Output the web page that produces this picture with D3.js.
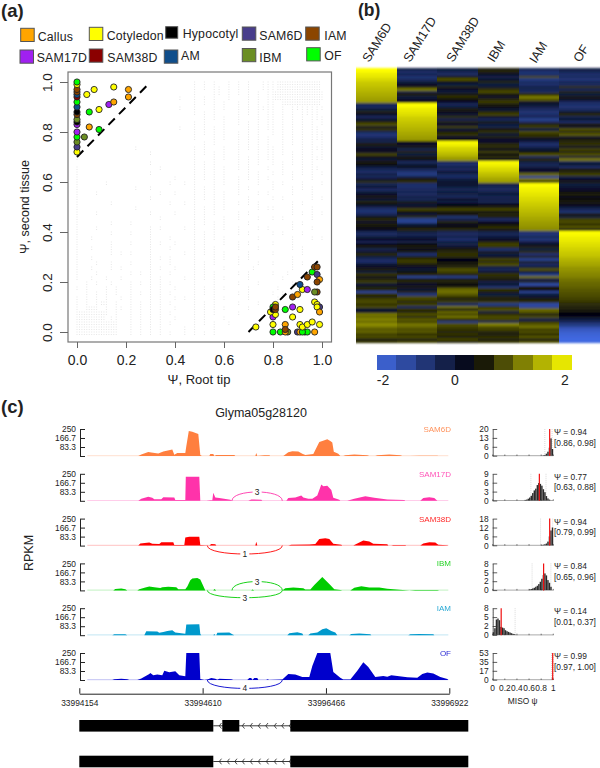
<!DOCTYPE html>
<html><head><meta charset="utf-8">
<script src="https://cdn.jsdelivr.net/npm/d3@7"></script>
<style>
html,body{margin:0;padding:0;background:#fff}
svg{display:block}
text{font-family:"Liberation Sans",Arial,sans-serif;fill:#222}
</style></head><body>
<svg id="c" width="600" height="768" xmlns="http://www.w3.org/2000/svg"></svg>
<script>
// ---------- panel (a) data
const tissueNames = ["Callus","Cotyledon","Hypocotyl","SAM6D","IAM","SAM17D","SAM38D","AM","IBM","OF"];
const tissueColors = ["#FFA500","#FFFF00","#000000","#483D8B","#8B4500","#A020F0","#8B0000","#104E8B","#6B8E23","#00FF00"];
const psiAxisTicks = [0,0.2,0.4,0.6,0.8,1.0];
// [psi root tip, psi second tissue, tissue]
const switchesHigh = [[0,.72,"Cotyledon"],[0,.74,"SAM6D"],[0,.76,"IBM"],[0,.78,"OF"],[0,.80,"SAM17D"],[0,.83,"SAM17D"],[0,.84,"Hypocotyl"],[0,.85,"IBM"],[0,.87,"IAM"],[0,.88,"Hypocotyl"],[0,.90,"AM"],[0,.92,"OF"],[0,.94,"SAM38D"],[0,.95,"AM"],[0,.96,"IAM"],[0,.97,"IAM"],[0,.99,"Cotyledon"],[0,1,"OF"],
[.04,.95,"Cotyledon"],[.07,.97,"Cotyledon"],[.15,.98,"Cotyledon"],[.21,.97,"Callus"],[.21,.94,"Callus"],[.13,.91,"SAM17D"],[.15,.92,"Callus"],[.09,.89,"Cotyledon"],[.05,.88,"OF"],[.05,.82,"Callus"],[.09,.81,"OF"],[.03,.78,"IBM"]];
const switchesLow = [[.73,.02,"Cotyledon"],[.80,.03,"Cotyledon"],[.80,0,"OF"],[.83,0,"OF"],[.86,0,"IBM"],[.85,0,"Callus"],[.85,.03,"Callus"],[.85,.01,"IAM"],[.90,0,"SAM6D"],[.93,0,"SAM6D"],[.91,0,"Callus"],[.94,0,"OF"],[.92,0,"OF"],[.97,0,"Callus"],[.91,.03,"Cotyledon"],[.92,.02,"Cotyledon"],[.94,.03,"Cotyledon"],[.96,.04,"Cotyledon"],[.99,.03,"Cotyledon"],
[.85,.09,"OF"],[.88,.10,"SAM17D"],[.91,.09,"Cotyledon"],[.88,.06,"Cotyledon"],[.80,.06,"SAM17D"],[.81,.07,"Cotyledon"],[.79,.08,"Cotyledon"],[.81,.11,"Cotyledon"],[.80,.10,"OF"],[.80,.09,"Hypocotyl"],[.81,.09,"IAM"],[.81,.10,"IAM"],
[.88,.14,"IAM"],[.90,.15,"Callus"],[.92,.17,"Cotyledon"],[.94,.17,"SAM17D"],[.91,.19,"AM"],[.94,.22,"IAM"],[.96,.24,"OF"],[.97,.26,"IAM"],[.98,.26,"IAM"],[.98,.23,"SAM6D"],[.99,.21,"Callus"],[.98,.20,"IAM"],[.98,.16,"IAM"],[.97,.16,"IBM"],[.97,.12,"Cotyledon"],[.98,.11,"Cotyledon"],[.99,.10,"SAM6D"],[.98,.10,"Cotyledon"],[.99,.08,"Callus"]];
// occurrence map of background events: one row per 0.02 of y, one char per 0.02 of x ("X" = finer 0.01 cell)
const backgroundRows = [
".......... .......... ....x.x.x. .x.x.x..xx xXXXXXXXXX .",
".......... .......... ....x.x.xx .x.x.x..xx xXXXXXXXXX .",
".......... .......... ....x...xx .x.x.x.x.x XXXXXXXXXX x",
".......... .......... .x..x.x.x. .x...x.x.x XXXXXXXXXX x",
".......... .......... ....x.x.x. x..x.x.x.x x.XXXXXXXX .",
".......... .......... .x..x...x. x..x.x.xxx x.x.xxxxxx x",
".......... .......... ....x.x.x. ...x.x.x.x x.x.x.xxxx .",
".......... .......... ......x.x. x..x...x.x x.x.x.x.xx x",
".......... .......... ....x.x... x..x.x.x.x x.x.x.x.x. x",
".......... .......... .x..x.x.x. x....x.x.x x.x.x.x.xx .",
".......... .......... ....x.x.x. x..x.x.x.. x.x.x.x.xx x",
".......... .......... ....x...x. x..x.x.x.x ..x.x.x.xx x",
".......... .......... ......x.x. ...x.x.x.x ..x.x.x.x. x",
".......... ..x....... ....x.x... x..x.x.x.x x.x...x.xx x",
".......... .....x.... ....x.x.x. x..x...x.x x.x.x.x.x. x",
"x......... .......... ....x...x. x..x.x.x.x x...x.x.xx x",
".......... .....x.... ....x.x.x. ...x.x.x.. x.x.x.x.x. .",
"x......... .......x.. ....x.x.x. x..x.x...x ..x...x.xx .",
"x......... .....x.... ....x.x.x. x....x.x.. x.x.x.x.x. x",
"x......... .......... x...x.x.x. x..x.x.x.x ....x...x. .",
"x.....x... .........x ..x.x...x. x..x...x.. x.x...x... x",
"x......... ..x..x.... ....x.x.x. ...x.x.... x...x.x.x. .",
"x...x..... .......x.. x...x.x.x. x..x...x.x ....x...x. .",
"x......... .....x.... ....x.x.x. x....x.... x.x.....x. x",
"x......x.. .........x ..x.x...x. x..x.x.x.. ....x.x... .",
"x......... ..x....... ....x.x.x. x......x.x x...x...x. .",
"x...x..... .....x.... x...x.x.x. ...x.x.... ....x.x.x. x",
"x......... .......x.. ....x.x... x..x...x.. x.x.....x. .",
"x......x.. .x........ ....x.x.x. x....x.... ....x.x... .",
"x...x..... .....x.x.. ..x.x...x. x..x...x.x ....x...x. .",
"x......x.. .x...x.... ....x.x.x. ...x.x.... x.x...x... .",
"x..x...... .....x...x ....x.x.x. x......x.. ....x...x. x",
"x......x.. .x...x.x.. x...x.x... x..x.x.... x...x..... .",
"x..x...x.. .....x...x ....x.x.x. ...x...x.. ....x.x... .",
"x......x.x .x...x.... ..x.x.x.x. x....x.... x.....x... .",
"x..x...... .....x.x.x ....x...x. x..x.x.... ....x..... .",
"x...x..x.. .x...x...x ....x.x.x. ...x...x.. x...x.x... .",
"x..x...x.x .....x.x.. x...x.x... x.....x... ....x..... .",
"x...x..... .x.x.x...x ....x.x.x. ...x.x.... x..x...... .",
"x..x..x..x .....x.x.. ..x.x.x.x. x....x.... ..x....... .",
"..x.x..x.. .x.x.x.x.x ....x...x. ...x...x.. ....x..... .",
"x.x...x.x. .x...x.x.. x...x.x.x. x....x.... .x........ .",
"..x.x.x.x. .x.x.x.x.x ....x.x.x. ...x.x.... x.x....... .",
"x.x.x.x..x .x...x.x.. x.x.x...x. x....x.... .x........ .",
"x.x.xXx.x. .x.x.x.x.x ....x.x.x. ...x...x.. .......... .",
"x.XXx.x.xx .x.x.x.x.. x...x.x.x. x....x.... .......... .",
"XXXXXXx.x. .x.x.x.x.x ....x.x.x. ...x...... .......... .",
"XXXXXX.xx. .x.x.x.x.. x...x.x... x......... .......... .",
"XXXXXXXXx. .x.x.x.x.x ....x.x.x. .x........ .......... .",
"XXXXXXXXx. .x.x.x.x.. ..x.x...x. .......... .......... .",
"XXXXXXXXx. .x.x.x.x.x ..x.x.x.x. .......... .......... ."];

// ---------- panel (b) data: one row per event, one array per tissue (block sizes 14,15,8,9,19,45)
const heatColumns = ["SAM6D","SAM17D","SAM38D","IBM","IAM","OF"];
const heatSAM6D = [2,1.95,1.85,1.8,1.7,1.6,1.55,1.5,1.45,1.4,1.35,1.3,1.25,1.15,
-.7,-.8,-.5,.3,-.3,-.8,-.4,.3,.6,-.3,.4,-.7,-1,-.9,-.6,
-.6,.2,-.4,-.2,-.3,.5,-.2,-.4,
.2,.1,-.5,-.7,-.9,-.6,-.8,-.4,.4,
-.7,-.3,-.8,-.5,-.3,.2,-.4,.3,-.2,-.6,-.9,-1,-.7,.1,.3,-.3,.2,.1,-.2,
-.7,-.8,-.5,-.3,-.7,-.2,.2,-.6,-.4,.3,-.5,-.8,-.9,-.4,-.3,.2,-.5,.4,-.2,.3,
.5,-.4,.2,.3,-1.3,.4,.2,.5,.6,.4,.6,-.4,-.3,.9,.8,1,.8,1.1,.9,.7,.8,.5,.6,.3,.4];
const heatSAM17D = [-.6,-.9,-.7,-1,-.8,-.5,-.3,.2,.9,-.6,.2,-.5,-.3,.3,
2,1.95,1.85,1.8,1.75,1.65,1.6,1.55,1.5,1.45,1.4,1.35,1.3,1.25,1.2,
.1,-.3,.2,-.6,.3,-.5,.2,-.2,
-.8,-.5,.1,-.7,-1,-1.1,-.6,.2,.4,
-.9,-.9,-.8,-.7,-.8,-.6,-.7,.2,-.4,-.3,.5,.1,-.4,.4,-1.2,-1.3,-.5,.1,.3,
-.5,-.7,-.5,-.3,-.6,.1,.2,-.2,.2,-.9,.2,.4,.5,.2,-.3,-.4,.1,.3,-1.3,.2,
.3,-.3,.2,-.4,.3,-1,.6,.5,.3,.5,-.8,.4,.2,.6,.3,.7,.5,.9,.8,.6,.7,.4,.6,.3,.5];
const heatSAM38D = [-.5,-.7,-.8,.2,.6,.1,-.5,.3,-.3,-.5,.2,.4,.1,-.3,
-.7,-.5,.2,-.2,-.4,.4,-.6,.3,-.3,.5,-.4,.2,.4,-.3,.1,
2,1.9,1.75,1.65,1.55,1.45,1.3,1.2,
-.7,-.9,-.6,-.8,-.3,-.7,-.9,-.5,-.4,
-.4,-.5,-.7,-.5,-.6,-.8,-.3,-.6,-.1,.2,.5,.1,.2,-1,-.6,.3,-.2,.1,.3,
-.7,-.8,-.6,-.9,-.5,-.6,-.3,.2,.3,.4,.3,-.1,.1,.2,.3,.6,.5,.3,-1.2,.2,
.3,.1,.2,.8,.9,.7,.4,.3,.5,-.8,.9,.3,.8,.6,.9,.4,-1.1,.6,.5,.4,.3,.4,.2,.5,.3];
const heatIBM = [.2,.3,-.3,-.6,-.4,.3,-.5,-.4,.4,.6,.2,-.3,.3,.5,
.2,.1,-.4,.3,.5,-.3,-.7,.2,-.5,-.6,.2,.4,-.4,.3,-.3,
-.3,.3,.4,-.2,.5,.1,.4,-.2,
2,1.9,1.8,1.7,1.6,1.5,1.4,1.3,1.2,
-.6,-.7,-.8,-.6,-.5,-.7,-.6,-.7,-.2,.2,.5,.1,.3,.2,-.8,-.3,.1,.4,.2,
-.6,-.7,-.5,-.3,.3,.5,.4,-.9,.2,-.5,-.3,.5,.3,.6,-.5,-.7,-.4,.4,.3,.2,
-.6,-.4,-1,.4,.2,-.5,.3,.2,.5,-1.1,.4,.6,-.5,.4,.6,.5,-.7,1,.6,.5,.3,.2,.4,.3,.4];
const heatIAM = [-.7,-1,-.9,.6,-1.1,-.8,-.9,-.6,-.7,-.8,.4,1,.7,-.3,
-.4,-.6,-.8,-1,-.9,-.7,-1.2,-.8,.3,.5,-.5,.6,.4,.3,-.3,
-.6,-.9,-.7,-.4,.1,.6,-.8,.3,
-.5,-.7,-.6,-.3,-.4,.8,-1.3,.9,.3,
2,1.95,1.9,1.85,1.8,1.75,1.7,1.65,1.6,1.55,1.5,1.45,1.4,1.35,1.3,1.25,1.2,1.15,1.1,
-.9,-1,-.7,-1,-.6,-.3,.3,-.5,.4,-.9,.3,-1.2,.2,-.8,-.5,.6,-.4,-1.1,.9,-.6,
.3,-1.4,.2,.1,-1.3,-.5,-.4,.2,.4,-1.4,-1.3,.8,.7,.3,.6,-.6,.4,.7,.9,.5,.6,.4,.7,.3,.6];
const heatOF = [-.6,-.7,-.9,-.8,-1,-.7,-.8,.4,-.7,.3,-.5,.2,-.3,-.8,
-.9,-1,-.8,-.4,.3,-.7,-.4,-.9,.2,-.3,.6,.3,.7,-.3,.2,
.3,.4,-.3,.5,.2,.6,-.4,.9,
-.7,-.4,-.9,.2,.3,.5,-.6,-.3,.2,
-.5,-.4,-.3,.1,.2,-.1,.1,.2,-.2,-.4,-.7,-1,.2,-.5,.5,.6,.4,.7,.3,
2,1.95,1.9,1.85,1.8,1.75,1.7,1.65,1.6,1.55,1.5,1.4,1.35,1.3,1.2,1.15,1.1,1.05,1,.9,
.85,.8,.75,.7,.65,.6,.55,.5,.4,.35,.3,.2,.1,0,-.2,-.5,-.8,-1.1,-1.4,-1.7,-1.8,-1.9,-1.95,-2,-2];
const heatTable = [heatSAM6D,heatSAM17D,heatSAM38D,heatIBM,heatIAM,heatOF];
const colorBarBins = [-1.8,-1.4,-1,-.6,-.2,.2,.6,1,1.4,1.8];
const colorBarLabels = [-2,0,2];

// ---------- panel (c) data
const geneTitle = "Glyma05g28120";
const sampleNames = ["SAM6D","SAM17D","SAM38D","IBM","IAM","OF"];
const sampleColors = ["#FF7F3F","#FF33AA","#FF0000","#00CC00","#0099CC","#0000CC"];
const rpkmTicks = [0,83.3,166.7,250];
const genomeTicks = [33994154,33994610,33996466,33996922];
// coverage: [scaled position along the (compressed) genome axis, RPKM]
const covSAM6D = [[59,0],[62,15],[69,37],[72,33],[79,23],[84,42],[93,60],[95,12],[98,28],[106,28],[107,90],[109.5,232],[113,225],[119,204],[121,10],[122.6,0],[130,0],[131,18],[134,18],[135,0],[137,10],[155,10],[156,0],[176,0],[177,28],[178,0],[185,8],[190,8],[191,0],[204,0],[209,35],[213,44],[219,42],[223,20],[226,10],[234,18],[240,130],[243,140],[248,155],[251,140],[253,125],[254.5,40],[259,20],[261,0],[264,0],[266,8],[275,14],[288,8],[290,0],[296,0],[298,8],[310,14],[321,6],[323,0],[331,0],[340,3],[358,3],[359,0]];
const covSAM17D = [[59,0],[62,20],[69,37],[73,28],[75,14],[82,14],[84,32],[95,30],[96,8],[106,8],[106.5,222],[120,222],[121,0],[127,0],[131,5],[133,5],[134,74],[136,30],[140,26],[151,10],[153,0],[169,0],[172,12],[182,10],[183,0],[207,0],[209,25],[216,30],[222,50],[224,30],[229,20],[233,18],[238,50],[242,150],[244,135],[248,140],[252,100],[254,28],[260,10],[261,0],[268,0],[275,18],[286,42],[295,28],[308,12],[325,8],[326,0],[341,0],[344,25],[350,32],[355,25],[358,0]];
const covSAM38D = [[59,0],[61,20],[70,28],[73,16],[80,14],[82,30],[94,30],[95,5],[105,5],[106,75],[110,83],[120,83],[121,5],[130,0],[132,14],[136,12],[137,0],[176,0],[177,35],[178,0],[209,0],[212,8],[230,10],[236,15],[240,60],[246,68],[250,60],[254,18],[262,8],[263,0],[274,0],[278,20],[284,48],[290,38],[294,16],[308,12],[309,0],[312,0],[314,6],[326,6],[327,0],[341,0],[344,20],[350,30],[356,28],[359,8],[368,3],[369,0]];
const covIBM = [[34,0],[36,14],[42,18],[46,10],[48,0],[58,0],[60,10],[66,28],[70,37],[75,30],[81,22],[83,30],[89,33],[97,30],[99,10],[106,10],[108,35],[111,95],[113,111],[118,115],[121,100],[124,40],[126,0],[134,0],[135,12],[137,0],[172,0],[173,8],[175,0],[203,0],[206,20],[214,28],[224,20],[226,8],[231,8],[235,50],[243,125],[251,50],[255,10],[261,4],[263,0],[271,0],[275,25],[282,38],[290,28],[300,28],[308,15],[320,5],[330,0],[336,4],[358,4],[360,0]];
const covIAM = [[33,0],[35,9],[46,9],[48,0],[65,0],[67,36],[78,34],[80,22],[84,30],[88,38],[93,46],[96,25],[106,14],[107,100],[120,102],[121,10],[122,0],[134,0],[135,10],[136,0],[137,0],[138,22],[150,24],[153,8],[155,0],[208,0],[210,18],[218,28],[223,15],[224,0],[229,0],[231,16],[238,25],[243,55],[247,65],[252,40],[256,25],[258,0],[270,0],[272,10],[280,16],[291,8],[292,0],[329,0],[331,8],[340,10],[354,8],[355,0]];
const covOF = [[33,0],[35,8],[42,12],[48,8],[50,0],[58,0],[62,15],[70,55],[71,65],[74,45],[78,50],[83,45],[85,85],[90,72],[96,80],[100,45],[106,35],[107,250],[120,250],[121,10],[125,0],[128,5],[132,18],[136,12],[138,3],[140,12],[152,8],[154,0],[168,0],[170,18],[172,18],[173,0],[175,18],[178,18],[179,0],[187,0],[188,8],[190,0],[203,5],[209,55],[216,50],[223,28],[230,28],[233,130],[238,250],[251,250],[254,75],[261,20],[264,5],[271,5],[278,85],[284,165],[289,120],[296,28],[304,37],[308,30],[312,45],[318,38],[328,25],[338,20],[343,55],[348,70],[354,60],[361,28],[368,10],[369,0]];
const coverage = [covSAM6D,covSAM17D,covSAM38D,covIBM,covIAM,covOF];
// splice junction arcs: [sample index, from, to, reads, above?, height in RPKM units]
const junctions = [[1,152.7,203,3,true,82],[2,128,203,1,false,78],[3,152.7,203,3,true,82],[3,128,203,3,false,68],[5,128,203,4,false,78]];
// exons and intron chevrons of the two isoforms, in the same scaled positions
const isoform1Exons = [[0,134],[143,160],[211,389]];
const isoform2Exons = [[0,134],[211,389]];
const isoform1Chevrons = [141,164,172,180,187.5,196,203.5,211];
const isoform2Chevrons = [141,149,156.5,164,172,180,188,196,204,211];
// MISO posterior histograms
const histMax = [20,9,18,8,8,53];
const histPsi = [.94,.77,.94,.84,.14,.99];
const histLow = [.86,.63,.79,.65,.01,.97];
const histHigh = [.98,.88,.99,.96,.37,1.00];
const histSAM6D = [[.825,.3],[.85,.6],[.875,1.5],[.9,3],[.925,6],[.95,13],[.975,5]];
const histSAM17D = [[.525,.2],[.55,.3],[.575,.6],[.6,1],[.625,1.6],[.65,2.5],[.675,3.4],[.7,4],[.725,5.2],[.75,5.9],[.775,5.6],[.8,5],[.825,3.8],[.85,2.8],[.875,1.5],[.9,.7],[.925,.3]];
const histSAM38D = [[.8,.2],[.825,.4],[.85,.7],[.875,1.2],[.9,2.5],[.925,6],[.95,10],[.975,12]];
const histIBM = [[.6,.2],[.625,.3],[.65,.5],[.675,.7],[.7,1],[.725,1.3],[.75,1.8],[.775,2.5],[.8,3.4],[.825,4.5],[.85,5],[.875,4.4],[.9,3],[.925,2.2],[.95,1]];
const histIAM = [[0,.8],[.025,2],[.05,4.6],[.075,4.9],[.1,4.4],[.125,2.4],[.15,2.2],[.175,2],[.2,1.4],[.225,1.1],[.25,.9],[.275,.7],[.3,.5],[.325,.3],[.35,.2]];
const histOF = [[.975,3]];
const histTable = [histSAM6D,histSAM17D,histSAM38D,histIBM,histIAM,histOF];
const histXTicks = [0,.2,.4,.6,.8,1];
const histXLabels = ["0","0.2","0.4","0.6","0.8","1"];

// ======================= drawing
const svg = d3.select("#c");
function label(x,y,t,size,opt={}){
  const n = svg.append("text").attr("x",x).attr("y",y).attr("font-size",size).text(t);
  if(opt.anchor) n.attr("text-anchor",opt.anchor);
  if(opt.weight) n.attr("font-weight",opt.weight);
  if(opt.rot!==undefined) n.attr("transform",`rotate(${opt.rot} ${x} ${y})`);
  if(opt.fill) n.style("fill",opt.fill);
  return n;
}
label(1,17,"(a)",18.5,{weight:"bold"});
label(358,16,"(b)",17.5,{weight:"bold"});
label(1,413,"(c)",18.5,{weight:"bold"});

// --- (a)
const px = d3.scaleLinear().domain([0,1]).range([77,322]);
const py = d3.scaleLinear().domain([0,1]).range([332,82]);
svg.append("rect").attr("x",68).attr("y",72).attr("width",263.5).attr("height",270).attr("fill","#fff").attr("stroke","#777").attr("stroke-width",1.2);
const bgDots = [];
backgroundRows.forEach((row,ri)=>{
  const chars = row.replace(/ /g,"");
  const yv = 1 - ri*0.02;
  for(let ci=0;ci<chars.length;ci++){
    const c = chars[ci], xv = ci*0.02;
    if(c==="x") bgDots.push([xv,yv],[xv,yv-.01]);
    if(c==="X"){ bgDots.push([xv,yv],[xv+.01,yv],[xv,yv-.01],[xv+.01,yv-.01]); }
  }
});
svg.append("g").selectAll("rect").data(bgDots).join("rect")
  .attr("x",d=>px(d[0])-.5).attr("y",d=>py(d[1])-.5).attr("width",1).attr("height",1).attr("fill","#e6e6e6");
const axB = svg.append("g").attr("transform","translate(0,342)").call(d3.axisBottom(px).tickValues(psiAxisTicks).tickFormat(d3.format(".1f")).tickSize(6).tickPadding(7.5));
axB.select(".domain").remove(); axB.selectAll("line").attr("stroke","#666");
axB.selectAll("text").attr("font-size",14).attr("font-family",null);
const axL = svg.append("g").attr("transform","translate(68,0)").call(d3.axisLeft(py).tickValues(psiAxisTicks).tickFormat(d3.format(".1f")).tickSize(8));
axL.select(".domain").remove(); axL.selectAll("line").attr("stroke","#666");
axL.selectAll("text").attr("font-size",13.5).attr("text-anchor","middle").attr("x",0).attr("dy",0).attr("transform","translate(-16,0) rotate(-90)");
label(199,384,"Ψ, Root tip",13,{anchor:"middle"});
label(29,207,"Ψ, second tissue",12.5,{anchor:"middle",rot:-90});
svg.append("g").selectAll("line").data([[[0,.7],[.3,1]],[[.7,0],[1,.3]]]).join("line")
  .attr("x1",d=>px(d[0][0])).attr("y1",d=>py(d[0][1])).attr("x2",d=>px(d[1][0])).attr("y2",d=>py(d[1][1]))
  .attr("stroke","#000").attr("stroke-width",2).attr("stroke-dasharray","9 6");
const tissueColor = d3.scaleOrdinal(tissueNames,tissueColors);
svg.append("g").selectAll("circle").data(switchesHigh.concat(switchesLow)).join("circle")
  .attr("cx",d=>px(d[0])).attr("cy",d=>py(d[1])).attr("r",3.1)
  .attr("fill",d=>tissueColor(d[2])).attr("stroke","#222").attr("stroke-width",.9);
// legend
const legendPlacement = [[20.7,28.3,37.7,40.7],[89.3,27.3,106.7,40],[165.7,26.7,182.7,37.5],[242.3,27,259.3,40],[305.7,27,324.3,39.5],
                         [20,50,36.7,62.3],[89.3,49,107.3,61.7],[164.3,50,181,60.3],[242.3,48.5,259.3,61.7],[306.7,47.7,324.3,60.3]];
tissueNames.forEach((t,i)=>{
  const p = legendPlacement[i];
  svg.append("rect").attr("x",p[0]).attr("y",p[1]).attr("width",i===2?12:13.5).attr("height",i===2?11.5:13.2)
    .attr("fill",tissueColors[i]).attr("stroke","#555").attr("stroke-width",1);
  label(p[2],p[3],t,12.3).style("letter-spacing","0.2px");
});

// --- (b)
const hx = d3.scaleBand().domain(heatColumns).range([356,600]);
const hy = d3.scaleBand().domain(d3.range(heatSAM6D.length)).range([68,343]);
const heatColor = d3.scaleLinear().domain([-2,0,2]).range(["#4169E1","#000008","#FFFF00"]);
const defs = svg.append("defs");
defs.append("filter").attr("id","soft").attr("x","-2%").attr("y","-2%").attr("width","104%").attr("height","104%")
  .append("feGaussianBlur").attr("stdDeviation","0 .8");
const gh = svg.append("g").attr("shape-rendering","crispEdges").attr("filter","url(#soft)");
heatTable.forEach((col,ci)=>{
  gh.append("g").selectAll("rect").data(col).join("rect")
    .attr("x",hx(heatColumns[ci])).attr("width",hx.bandwidth())
    .attr("y",(d,i)=>hy(i)).attr("height",hy.bandwidth()+.3)
    .attr("fill",d=>heatColor(d));
});
const headerAnchor = [[369,63],[410,63],[453,63],[494,63],[536,64],[580,63]];
heatColumns.forEach((t,i)=>{ label(headerAnchor[i][0],headerAnchor[i][1],t,12.6,{rot:-58}); });
const cbx = d3.scaleBand().domain(colorBarBins).range([377,571.7]);
svg.append("g").attr("shape-rendering","crispEdges").selectAll("rect").data(colorBarBins).join("rect")
  .attr("x",d=>cbx(d)).attr("y",354.5).attr("width",cbx.bandwidth()+.3).attr("height",15).attr("fill",d=>heatColor(d));
const cbl = d3.scaleLinear().domain([-2,0,2]).range([383,455,565]);
colorBarLabels.forEach(v=>label(cbl(v),385,String(v),14,{anchor:"middle"}));

// --- (c)
label(261,417,geneTitle,12.5,{anchor:"middle"});
label(33,553,"RPKM",12.5,{anchor:"middle",rot:-90});
const gx = d3.scaleLinear().domain([0,370]).range([79.3,449.3]);
const trackBase = d3.scalePoint().domain(sampleNames).range([456,680]);
const trackH = 27;
sampleNames.forEach((name,i)=>{
  const base = trackBase(name);
  const y = d3.scaleLinear().domain([0,250]).range([base,base-trackH]);
  const col = sampleColors[i];
  svg.append("line").attr("x1",gx(8)).attr("x2",gx(369)).attr("y1",base-.3).attr("y2",base-.3).attr("stroke",col).attr("stroke-width",.8).attr("opacity",.3);
  svg.append("path").datum(coverage[i]).attr("fill",col).attr("d",d3.area().x(d=>gx(d[0])).y0(base).y1(d=>y(d[1])));
  const a = svg.append("g").attr("transform",`translate(80,0)`).call(d3.axisLeft(y).tickValues(rpkmTicks).tickFormat(v=>v?String(v):"").tickSize(-5).tickSizeOuter(0).tickPadding(4));
  a.selectAll("path,line").attr("stroke","#222");
  a.selectAll("text").attr("font-size",8.4).attr("font-family",null);
  label(451,base-24,name,8,{anchor:"end",fill:col}).style("opacity",.85);
  // MISO histogram
  const hxS = d3.scaleLinear().domain([0,1]).range([492.7,553.3]);
  const hyS = d3.scaleLinear().domain([0,histMax[i]]).range([base-.3,base-trackH]);
  [histLow[i],histHigh[i]].forEach(v=>svg.append("line").attr("x1",hxS(v)).attr("x2",hxS(v)).attr("y1",base).attr("y2",base-trackH).attr("stroke","#ccc").attr("stroke-width",.7).attr("stroke-dasharray","1 1"));
  svg.append("line").attr("x1",492.7).attr("x2",553.3).attr("y1",base-.3).attr("y2",base-.3).attr("stroke","#aaa").attr("stroke-width",1);
  svg.append("g").selectAll("line").data(histXTicks).join("line").attr("x1",d=>hxS(d)).attr("x2",d=>hxS(d)).attr("y1",base).attr("y2",base-1.5).attr("stroke","#444").attr("stroke-width",.7);
  svg.append("g").selectAll("rect").data(histTable[i]).join("rect")
    .attr("x",d=>hxS(d[0])).attr("width",hxS(.025)-hxS(0)-.1).attr("y",d=>hyS(d[1])).attr("height",d=>hyS(0)-hyS(d[1])).attr("fill","#2a2a2a");
  svg.append("line").attr("x1",hxS(histPsi[i])).attr("x2",hxS(histPsi[i])).attr("y1",base).attr("y2",base-trackH).attr("stroke","#F01010").attr("stroke-width",1.2);
  const h = svg.append("g").attr("transform","translate(492.7,0)").call(d3.axisLeft(hyS).tickValues([0,1,2,3].map(k=>histMax[i]*k/3)).tickFormat(v=>String(Math.floor(v+1e-6))).tickSize(-4.5).tickSizeOuter(0).tickPadding(4));
  h.selectAll("path,line").attr("stroke","#333").attr("stroke-width",.8);
  h.selectAll("text").attr("font-size",8.4).attr("font-family",null);
  label(554,base-21,`Ψ = ${histPsi[i].toFixed(2)}`,8.4);
  label(554,base-10.5,`[${histLow[i].toFixed(2)}, ${histHigh[i].toFixed(2)}]`,8.4);
  if(i===5) histXTicks.forEach((t,k)=>label(hxS(t),base+10.7,histXLabels[k],8.4,{anchor:"middle"}));
});
label(522.7,704.3,"MISO ψ",8.4,{anchor:"middle"});

// genome axis
const genomeTickPos = d3.scalePoint().domain(genomeTicks).range([0,370]);
const ga = svg.append("g").attr("transform","translate(0,693.7)").call(
  d3.axisTop(gx).tickValues(genomeTicks.map(t=>genomeTickPos(t))).tickFormat("").tickSize(5.5).tickSizeOuter(0));
ga.selectAll("path,line").attr("stroke","#222");
genomeTicks.forEach(t=>label(gx(genomeTickPos(t))+.5,705.7,String(t),8.4,{anchor:"middle"}));

// junctions
junctions.forEach(j=>{
  const [si,a,b,reads,up,hgt] = j;
  const name = sampleNames[si], base = trackBase(name), col = sampleColors[si];
  const y = d3.scaleLinear().domain([0,250]).range([base,base-trackH]);
  const yTop = up ? y(hgt*1.33) : y(-hgt*1.33);
  const p = d3.path();
  p.moveTo(gx(a),base);
  p.bezierCurveTo(gx(a),yTop,gx(b),yTop,gx(b),base);
  svg.append("path").attr("d",p.toString()).attr("fill","none").attr("stroke",col).attr("stroke-width",.9);
  const xm = gx((a+b)/2), ym = up ? y(hgt) : y(-hgt);
  svg.append("rect").attr("x",xm-4.5).attr("y",ym-3.5).attr("width",9).attr("height",7).attr("fill","#fff");
  label(xm,ym+3,String(reads),8.4,{anchor:"middle"});
});

// gene models
[[isoform1Exons,isoform1Chevrons,725.8],[isoform2Exons,isoform2Chevrons,761.5]].forEach(([ex,chev,yc])=>{
  svg.append("line").attr("x1",gx(134)).attr("x2",gx(211)).attr("y1",yc).attr("y2",yc).attr("stroke","#222").attr("stroke-width",.9);
  svg.append("g").selectAll("path").data(chev).join("path")
    .attr("d",d=>{const p=d3.path();p.moveTo(gx(d)+1.2,yc-2.8);p.lineTo(gx(d)-1,yc);p.lineTo(gx(d)+1.2,yc+2.8);return p.toString();})
    .attr("fill","none").attr("stroke","#222").attr("stroke-width",.8);
  svg.append("g").selectAll("rect").data(ex).join("rect")
    .attr("x",d=>gx(d[0])).attr("width",d=>gx(d[1])-gx(d[0])).attr("y",yc-5.8).attr("height",11.6).attr("fill","#000");
});
</script>
</body></html>
